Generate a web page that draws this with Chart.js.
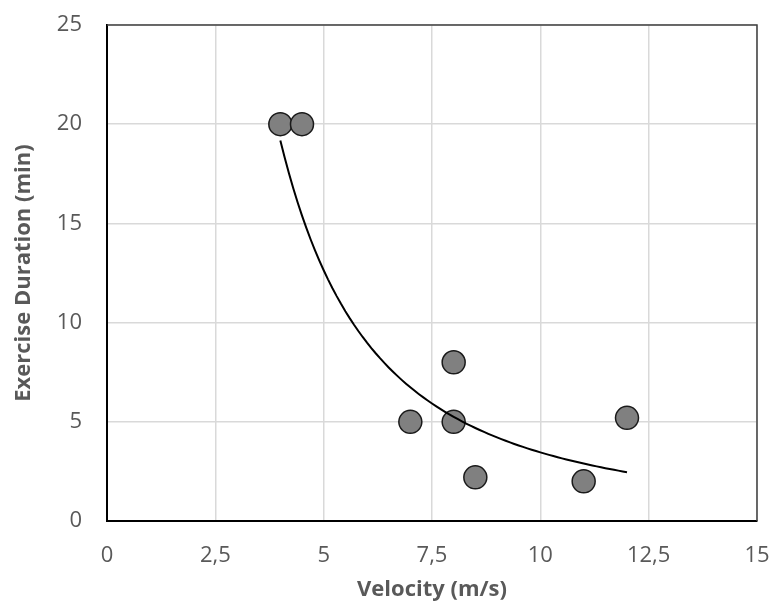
<!DOCTYPE html>
<html>
<head>
<meta charset="utf-8">
<script src="https://cdn.jsdelivr.net/npm/chart.js@4.4.1/dist/chart.umd.min.js"></script>
<style>
  html, body { margin: 0; padding: 0; background: #fff; }
  #wrap { width: 771px; height: 603px; }
</style>
</head>
<body>
<div id="wrap"><canvas id="chart" width="771" height="603"></canvas></div>
<script>
// Data
const velocity = [4, 4.5, 7, 8, 8, 8.5, 11, 12];
const duration = [20, 20, 5, 8, 5, 2.2, 2, 5.2];

const xTicks = [0, 2.5, 5, 7.5, 10, 12.5, 15];
const yTicks = [0, 5, 10, 15, 20, 25];

// Power trendline (y = a * x^b), least squares on logs like Excel does
const lx = velocity.map(v => Math.log(v));
const ly = duration.map(v => Math.log(v));
const mx = lx.reduce((s, v) => s + v, 0) / lx.length;
const my = ly.reduce((s, v) => s + v, 0) / ly.length;
let sxy = 0, sxx = 0;
lx.forEach((v, i) => { sxy += (v - mx) * (ly[i] - my); sxx += (v - mx) * (v - mx); });
const b = sxy / sxx;
const a = Math.exp(my - b * mx);
const xMin = Math.min(...velocity), xMax = Math.max(...velocity);
const trend = [];
for (let i = 0; i <= 80; i++) {
    const x = xMin + (xMax - xMin) * i / 80;
    trend.push({ x: x, y: a * Math.pow(x, b) });
}

const points = velocity.map((v, i) => ({ x: v, y: duration[i] }));

const textGrey = '#595959';
const fam = "'Open Sans', sans-serif";
const commaFmt = v => String(v).replace('.', ',');

// Box around the plot area (top and right edges)
const frame = {
    id: 'frame',
    beforeDatasetsDraw(chart) {
        const { ctx, chartArea: c } = chart;
        ctx.save();
        ctx.strokeStyle = '#404040';
        ctx.lineWidth = 1.5;
        ctx.beginPath();
        ctx.moveTo(c.left, c.top);
        ctx.lineTo(c.right, c.top);
        ctx.lineTo(c.right, c.bottom);
        ctx.stroke();
        ctx.restore();
    }
};

new Chart(document.getElementById('chart'), {
    type: 'scatter',
    data: {
        datasets: [{
            label: 'Trend',
            data: trend,
            showLine: true,
            borderColor: '#000',
            borderWidth: 2,
            pointRadius: 0,
            fill: false,
            order: 0
        }, {
            label: 'Exercise duration',
            data: points,
            backgroundColor: '#808080',
            borderColor: '#1a1a1a',
            borderWidth: 1.5,
            pointRadius: 11.5,
            pointHoverRadius: 11.5,
            order: 1
        }]
    },
    options: {
        responsive: false,
        animation: false,
        layout: { padding: { top: 25, right: 14, left: 0, bottom: 0 } },
        plugins: {
            legend: { display: false },
            tooltip: { enabled: false }
        },
        scales: {
            x: {
                type: 'linear',
                min: 0,
                max: 15,
                afterBuildTicks: s => { s.ticks = xTicks.map(v => ({ value: v })); },
                afterFit: s => { s.height = 82; s.paddingLeft = 0; s.paddingRight = 0; },
                grid: { color: '#d9d9d9', lineWidth: 1.5, drawTicks: false },
                border: { color: '#000', width: 2 },
                ticks: {
                    color: textGrey,
                    font: { family: fam, size: 22 },
                    padding: 22,
                    callback: commaFmt
                },
                title: {
                    display: true,
                    text: 'Velocity (m/s)',
                    color: textGrey,
                    font: { family: fam, size: 22, weight: 'bold' },
                    padding: { top: 0, bottom: 0 }
                }
            },
            y: {
                min: 0,
                max: 25,
                afterBuildTicks: s => { s.ticks = yTicks.map(v => ({ value: v })); },
                afterFit: s => { s.width = 107; s.paddingTop = 0; s.paddingBottom = 0; },
                grid: { color: '#d9d9d9', lineWidth: 1.5, drawTicks: false },
                border: { color: '#000', width: 2 },
                ticks: {
                    color: textGrey,
                    font: { family: fam, size: 22 },
                    padding: 25,
                    callback: commaFmt
                },
                title: {
                    display: true,
                    text: 'Exercise Duration (min)',
                    color: textGrey,
                    font: { family: fam, size: 22, weight: 'bold' },
                    padding: { top: 11, bottom: 0 }
                }
            }
        }
    },
    plugins: [frame]
});
</script>
</body>
</html>
